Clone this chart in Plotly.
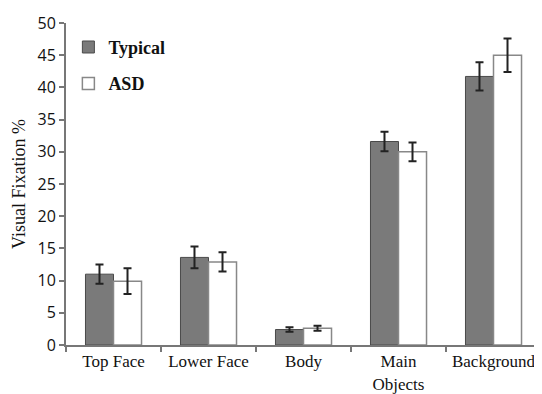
import plotly.graph_objects as go

categories = ["Top Face", "Lower Face", "Body", "Main<br>Objects", "Background"]
typical = [11.0, 13.6, 2.4, 31.6, 41.7]
typical_err = [1.5, 1.7, 0.35, 1.5, 2.2]
asd = [9.9, 12.9, 2.6, 30.0, 45.0]
asd_err = [2.0, 1.5, 0.4, 1.45, 2.6]
y_ticks = [0, 5, 10, 15, 20, 25, 30, 35, 40, 45, 50]

serif = "Liberation Serif, Times New Roman, serif"
sans = "Open Sans, sans-serif"

fig = go.Figure()
fig.add_trace(go.Bar(
    x=categories, y=typical, name="Typical", legendgroup="t",
    marker=dict(color="#7a7a7a", line=dict(color="#4a4a4a", width=1)),
    error_y=dict(type="data", array=typical_err, color="#222222", thickness=2, width=4),
))
fig.add_trace(go.Bar(
    x=categories, y=asd, name="ASD", legendgroup="a",
    marker=dict(color="#ffffff", line=dict(color="#888888", width=1.5)),
    error_y=dict(type="data", array=asd_err, color="#222222", thickness=2, width=4),
))

fig.update_layout(
    width=534, height=386,
    margin=dict(l=58, r=1, t=15, b=49, autoexpand=False),
    paper_bgcolor="white", plot_bgcolor="white",
    barmode="group", bargap=0.41, bargroupgap=0,
    showlegend=True,
    legend=dict(x=0.005, y=0.982, xanchor="left", yanchor="top",
                font=dict(family=serif, size=18, color="#111111", weight="bold"),
                bgcolor="rgba(0,0,0,0)", tracegroupgap=10, itemwidth=30),
    xaxis=dict(
        type="category", automargin=False, tickangle=0,
        showline=True, linecolor="#777777", linewidth=2,
        ticks="outside", tickson="boundaries", ticklen=5, tickcolor="#777777", tickwidth=2,
        tickfont=dict(family=serif, size=17, color="#111111"),
        showgrid=False,
    ),
    yaxis=dict(
        range=[0, 50], tickvals=y_ticks, automargin=False,
        showline=True, linecolor="#777777", linewidth=2,
        ticks="outside", ticklen=5, tickcolor="#777777", tickwidth=2,
        tickfont=dict(family=sans, size=16, color="#111111"),
        showgrid=False, zeroline=False,
        title=dict(text="Visual Fixation %", font=dict(family=serif, size=18, color="#111111"), standoff=7),
    ),
)

fig.write_html("out.html")
